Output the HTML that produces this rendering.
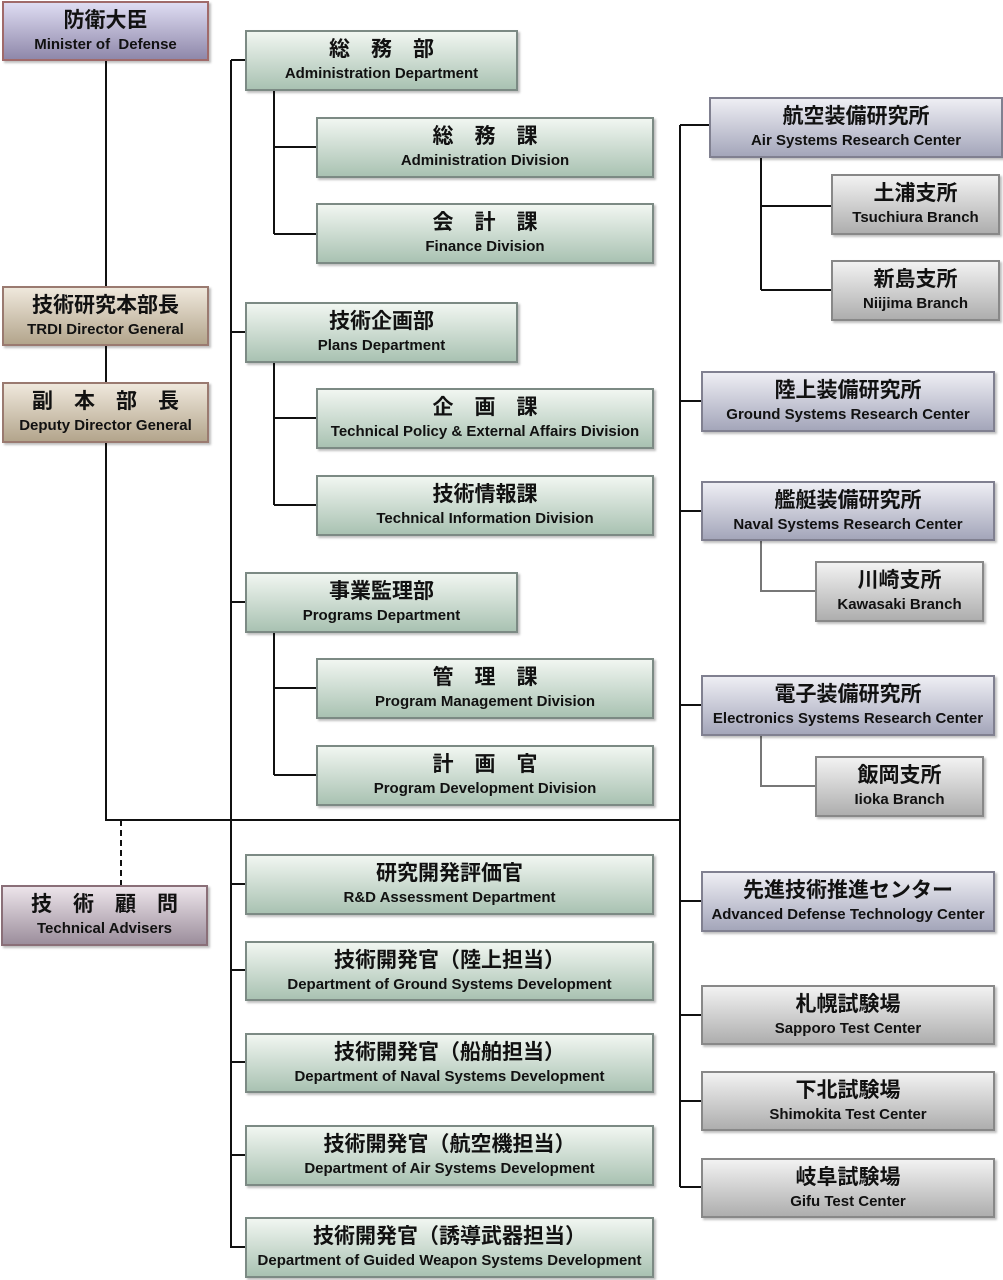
<!DOCTYPE html>
<html><head><meta charset="utf-8"><style>
body{margin:0;width:1003px;height:1280px;background:#fff;position:relative;overflow:hidden;font-family:"Liberation Sans","Noto Sans CJK JP",sans-serif;font-weight:bold;color:#111}
.b{position:absolute;box-sizing:border-box;border:2px solid #7f8a86;text-align:center;box-shadow:2px 2px 2px rgba(0,0,0,.25)}
.b .j{font-size:21px;line-height:24px;margin-top:6px;white-space:nowrap}
.b .e{font-size:15px;line-height:20px;margin-top:2px;white-space:nowrap}
.g{background:linear-gradient(#f1f6f1,#a9c2b2);border-color:#7c8a84}
.p{background:linear-gradient(#dedcf2,#8f88aa);border-color:#a06a6a}
.t{background:linear-gradient(#efe8dc,#b3a58c);border-color:#9a7a70}
.a{background:linear-gradient(#ece4ea,#9c8e9c);border-color:#8a6f78}
.s{background:linear-gradient(#eeeef4,#a4a6ba);border-color:#808090}
.y{background:linear-gradient(#f2f2f2,#aeaeae);border-color:#888}
svg{position:absolute;left:0;top:0}
</style></head><body>
<svg width="1003" height="1280" stroke="#111" stroke-width="2" fill="none">
<path d="M106 60V820H680M231 60V1248M680 125V1187"/>
<path d="M121 820V885" stroke-dasharray="6,4"/>
<path d="M231 60H245M231 332H245M231 602H245M231 884H245M231 970H245M231 1062H245M231 1155H245M231 1247H245"/>
<path d="M274 90V234M274 147H316M274 234H316M274 362V505M274 418H316M274 505H316M274 632V775M274 688H316M274 775H316"/>
<path d="M680 125H709M680 401H701M680 511H701M680 705H701M680 901H701M680 1015H701M680 1101H701M680 1187H701"/>
<path d="M761 157V290M761 206H831M761 290H831"/>
<path d="M761 540V591H815M761 735V786H815" stroke="#777"/>
</svg>
<div class="b p" style="left:2px;top:1px;width:207px;height:60px"><div class="j">防衛大臣</div><div class="e">Minister of&nbsp; Defense</div></div>
<div class="b t" style="left:2px;top:286px;width:207px;height:60px"><div class="j">技術研究本部長</div><div class="e">TRDI Director General</div></div>
<div class="b t" style="left:2px;top:382px;width:207px;height:61px"><div class="j">副　本　部　長</div><div class="e">Deputy Director General</div></div>
<div class="b a" style="left:1px;top:885px;width:207px;height:61px"><div class="j">技　術　顧　問</div><div class="e">Technical Advisers</div></div>

<div class="b g" style="left:245px;top:30px;width:273px;height:61px"><div class="j">総　務　部</div><div class="e">Administration Department</div></div>
<div class="b g" style="left:316px;top:117px;width:338px;height:61px"><div class="j">総　務　課</div><div class="e">Administration Division</div></div>
<div class="b g" style="left:316px;top:203px;width:338px;height:61px"><div class="j">会　計　課</div><div class="e">Finance Division</div></div>
<div class="b g" style="left:245px;top:302px;width:273px;height:61px"><div class="j">技術企画部</div><div class="e">Plans Department</div></div>
<div class="b g" style="left:316px;top:388px;width:338px;height:61px"><div class="j">企　画　課</div><div class="e">Technical Policy &amp; External Affairs Division</div></div>
<div class="b g" style="left:316px;top:475px;width:338px;height:61px"><div class="j">技術情報課</div><div class="e">Technical Information Division</div></div>
<div class="b g" style="left:245px;top:572px;width:273px;height:61px"><div class="j">事業監理部</div><div class="e">Programs Department</div></div>
<div class="b g" style="left:316px;top:658px;width:338px;height:61px"><div class="j">管　理　課</div><div class="e">Program Management Division</div></div>
<div class="b g" style="left:316px;top:745px;width:338px;height:61px"><div class="j">計　画　官</div><div class="e">Program Development Division</div></div>
<div class="b g" style="left:245px;top:854px;width:409px;height:61px"><div class="j">研究開発評価官</div><div class="e">R&amp;D Assessment Department</div></div>
<div class="b g" style="left:245px;top:941px;width:409px;height:60px"><div class="j">技術開発官（陸上担当）</div><div class="e">Department of Ground Systems Development</div></div>
<div class="b g" style="left:245px;top:1033px;width:409px;height:60px"><div class="j">技術開発官（船舶担当）</div><div class="e">Department of Naval Systems Development</div></div>
<div class="b g" style="left:245px;top:1125px;width:409px;height:61px"><div class="j">技術開発官（航空機担当）</div><div class="e">Department of Air Systems Development</div></div>
<div class="b g" style="left:245px;top:1217px;width:409px;height:61px"><div class="j">技術開発官（誘導武器担当）</div><div class="e">Department of Guided Weapon Systems Development</div></div>

<div class="b s" style="left:709px;top:97px;width:294px;height:61px"><div class="j">航空装備研究所</div><div class="e">Air Systems Research Center</div></div>
<div class="b y" style="left:831px;top:174px;width:169px;height:61px"><div class="j">土浦支所</div><div class="e">Tsuchiura Branch</div></div>
<div class="b y" style="left:831px;top:260px;width:169px;height:61px"><div class="j">新島支所</div><div class="e">Niijima Branch</div></div>
<div class="b s" style="left:701px;top:371px;width:294px;height:61px"><div class="j">陸上装備研究所</div><div class="e">Ground Systems Research Center</div></div>
<div class="b s" style="left:701px;top:481px;width:294px;height:60px"><div class="j">艦艇装備研究所</div><div class="e">Naval Systems Research Center</div></div>
<div class="b y" style="left:815px;top:561px;width:169px;height:61px"><div class="j">川崎支所</div><div class="e">Kawasaki Branch</div></div>
<div class="b s" style="left:701px;top:675px;width:294px;height:61px"><div class="j">電子装備研究所</div><div class="e">Electronics Systems Research Center</div></div>
<div class="b y" style="left:815px;top:756px;width:169px;height:61px"><div class="j">飯岡支所</div><div class="e">Iioka Branch</div></div>
<div class="b s" style="left:701px;top:871px;width:294px;height:61px"><div class="j">先進技術推進センター</div><div class="e">Advanced Defense Technology Center</div></div>
<div class="b y" style="left:701px;top:985px;width:294px;height:60px"><div class="j">札幌試験場</div><div class="e">Sapporo Test Center</div></div>
<div class="b y" style="left:701px;top:1071px;width:294px;height:60px"><div class="j">下北試験場</div><div class="e">Shimokita Test Center</div></div>
<div class="b y" style="left:701px;top:1158px;width:294px;height:60px"><div class="j">岐阜試験場</div><div class="e">Gifu Test Center</div></div>
</body></html>
